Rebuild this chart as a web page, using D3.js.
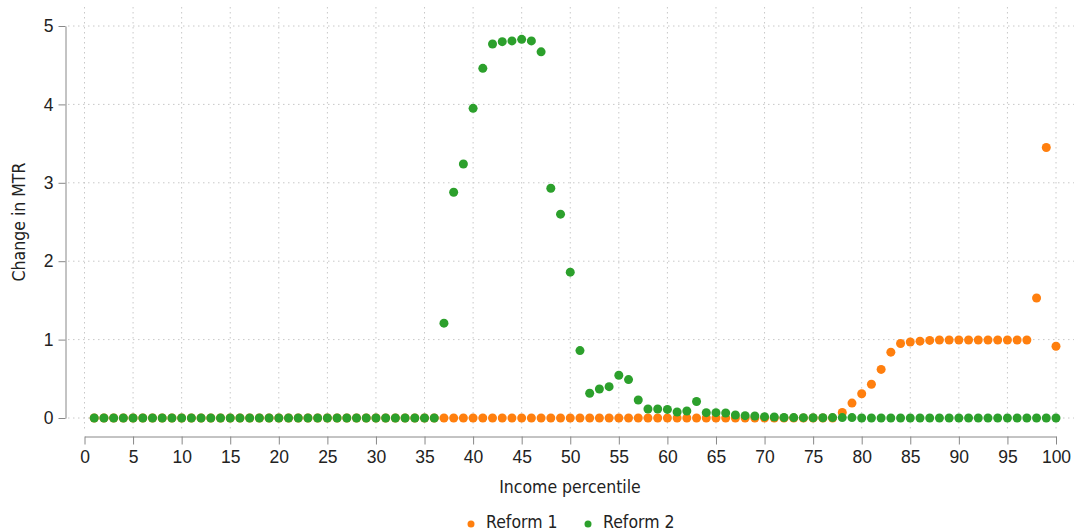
<!DOCTYPE html>
<html>
<head>
<meta charset="utf-8">
<script src="https://cdn.jsdelivr.net/npm/d3@7"></script>
<style>
  body { margin: 0; background: #fff; }
  svg { display: block; font-family: "Liberation Sans Narrow", "DejaVu Sans Condensed", sans-serif; }
  .grid line { stroke: #c8c8c8; stroke-dasharray: 1.5 3.5; }
  .axis path, .axis line { stroke: #888; }
  .axis text { fill: #222; font-size: 17.5px; }
</style>
</head>
<body>
<svg id="chart" width="1074" height="532"></svg>
<script>
// percentiles 1..100
var percentiles = d3.range(1, 101);

// Reform 1: zero up to 77, then rising to ~1 at the top
var reform1 = [
  0, 0, 0, 0, 0, 0, 0, 0, 0, 0,
  0, 0, 0, 0, 0, 0, 0, 0, 0, 0,
  0, 0, 0, 0, 0, 0, 0, 0, 0, 0,
  0, 0, 0, 0, 0, 0, 0, 0, 0, 0,
  0, 0, 0, 0, 0, 0, 0, 0, 0, 0,
  0, 0, 0, 0, 0, 0, 0, 0, 0, 0,
  0, 0, 0, 0, 0, 0, 0, 0, 0, 0,
  0, 0, 0, 0, 0, 0, 0, 0.07, 0.19, 0.31,
  0.43, 0.62, 0.84, 0.95, 0.97, 0.98, 0.99, 0.995, 0.995, 0.995,
  0.995, 0.995, 0.995, 0.995, 0.995, 0.995, 0.995, 1.53, 3.45, 0.915
];

// Reform 2: hump around the 40th-50th percentile
var reform2 = [
  0, 0, 0, 0, 0, 0, 0, 0, 0, 0,
  0, 0, 0, 0, 0, 0, 0, 0, 0, 0,
  0, 0, 0, 0, 0, 0, 0, 0, 0, 0,
  0, 0, 0, 0, 0, 0, 1.21, 2.88, 3.24, 3.95,
  4.46, 4.77, 4.80, 4.81, 4.83, 4.81, 4.67, 2.93, 2.60, 1.86,
  0.86, 0.315, 0.37, 0.40, 0.545, 0.49, 0.23, 0.115, 0.115, 0.11,
  0.077, 0.09, 0.21, 0.068, 0.068, 0.064, 0.038, 0.03, 0.025, 0.017,
  0.013, 0.006, 0.005, 0.004, 0.003, 0.003, 0.005, 0.005, 0.005, 0,
  0, 0, 0, 0, 0, 0, 0, 0, 0, 0,
  0, 0, 0, 0, 0, 0, 0, 0, 0, 0
];

var seriesNames = ['Reform 1', 'Reform 2'];
var seriesColors = ['#ff7f0e', '#2ca02c'];
var xTicks = d3.range(0, 101, 5);
var yTicks = [0, 1, 2, 3, 4, 5];

var svg = d3.select('#chart');
var width = 1074;

var x = d3.scaleLinear().domain([0, 100]).range([84.5, 1056]);
var y = d3.scaleLinear().domain([0, 5]).range([418, 26]);

// grid
var grid = svg.append('g').attr('class', 'grid');
grid.selectAll('.gx').data(xTicks).enter().append('line')
  .attr('x1', function(d) { return x(d); })
  .attr('x2', function(d) { return x(d); })
  .attr('y1', 7).attr('y2', 431);
grid.selectAll('.gy').data(yTicks).enter().append('line')
  .attr('x1', 68).attr('x2', width)
  .attr('y1', function(d) { return y(d); })
  .attr('y2', function(d) { return y(d); });

// axes
var xAxis = svg.append('g')
  .attr('class', 'axis')
  .attr('transform', 'translate(0,436.5)')
  .call(d3.axisBottom(x).tickValues(xTicks).tickFormat(d3.format('d'))
    .tickSize(8).tickPadding(4).tickSizeOuter(0));
xAxis.selectAll('text').attr('dy', '0.85em');

svg.append('g')
  .attr('class', 'axis')
  .attr('transform', 'translate(65.5,0)')
  .call(d3.axisLeft(y).tickValues(yTicks).tickFormat(d3.format('d'))
    .tickSize(7).tickPadding(5).tickSizeOuter(0));

svg.append('text')
  .attr('x', 570).attr('y', 493)
  .attr('text-anchor', 'middle')
  .style('font-size', '17.5px').attr('fill', '#222')
  .text('Income percentile');

svg.append('text')
  .attr('transform', 'translate(25,222) rotate(-90)')
  .attr('text-anchor', 'middle')
  .style('font-size', '17.5px').attr('fill', '#222')
  .text('Change in MTR');

// points
var series = [reform1, reform2];
series.forEach(function(vals, i) {
  svg.append('g').selectAll('circle')
    .data(vals).enter().append('circle')
    .attr('cx', function(d, j) { return x(percentiles[j]); })
    .attr('cy', function(d) { return y(d); })
    .attr('r', 4.5)
    .attr('fill', seriesColors[i]);
});

// legend
var legendX = [471, 588];
var legend = svg.append('g');
seriesNames.forEach(function(name, i) {
  legend.append('circle')
    .attr('cx', legendX[i]).attr('cy', 524)
    .attr('r', 3.5).attr('fill', seriesColors[i]);
  legend.append('text')
    .attr('x', legendX[i] + 15).attr('y', 528)
    .style('font-size', '17.5px').attr('fill', '#222')
    .text(name);
});
</script>
</body>
</html>
